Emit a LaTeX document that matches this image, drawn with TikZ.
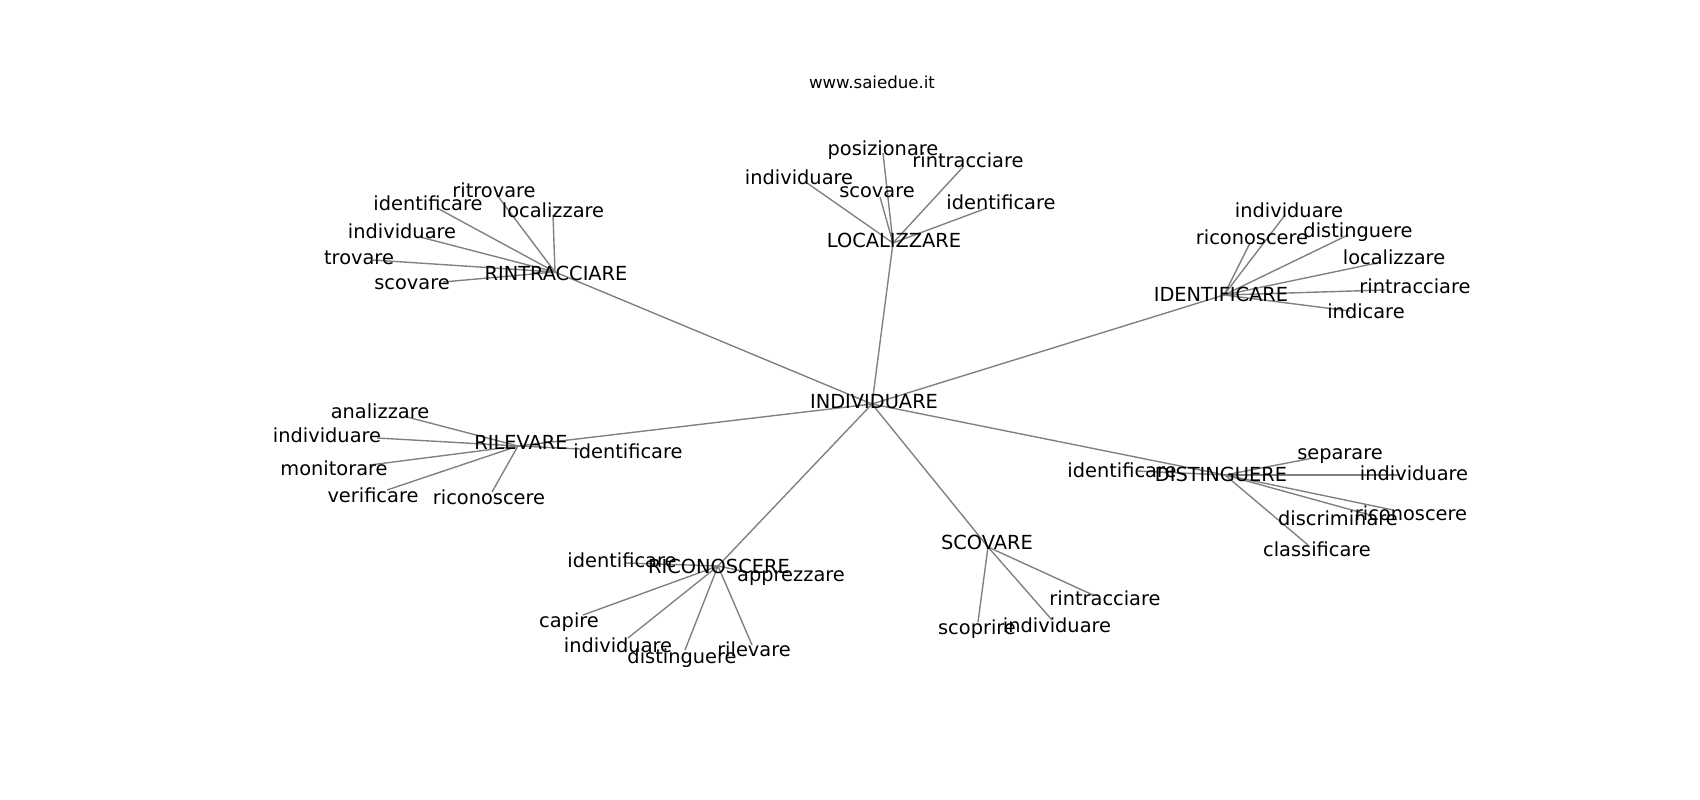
\documentclass[tikz,border=0pt]{standalone}
\usepackage{fontspec}
\setmainfont{DejaVu Sans}
\usepackage{tikz}
\usetikzlibrary{positioning}
\definecolor{edgegray}{RGB}{128,128,128}
\tikzstyle{word} = [inner sep=0pt, text height=0.76em, text depth=0.24em, yshift=-2.2pt, font=\fontsize{14}{16}\selectfont, text=black]
\tikzstyle{edge} = [draw=edgegray, line width=1pt]

\begin{document}
\begin{tikzpicture}[x=0.01in, y=-0.01in]
    \useasboundingbox (0,0) rectangle (1700,800);
    \tikzstyle{title} = [inner sep=0pt, anchor=base, font=\fontsize{12}{14}\selectfont]

    % points of the graph
    \coordinate (individuare) at (872,404);
    \coordinate (rintracciare) at (555,272);
    \coordinate (localizzare) at (893,243);
    \coordinate (identificare) at (1224,295);
    \coordinate (rilevare) at (518,446);
    \coordinate (distinguere) at (1225,475);
    \coordinate (riconoscere) at (718,566);
    \coordinate (scovare) at (988,547);

    \coordinate (rintRitrovare) at (497,195);
    \coordinate (rintIdentificare) at (437,208);
    \coordinate (rintLocalizzare) at (553,215);
    \coordinate (rintIndividuare) at (420,237);
    \coordinate (rintTrovare) at (373,260);
    \coordinate (rintScovare) at (443,282);

    \coordinate (locPosizionare) at (883,153);
    \coordinate (locRintracciare) at (963,167);
    \coordinate (locIndividuare) at (807,183);
    \coordinate (locScovare) at (880,197);
    \coordinate (locIdentificare) at (987,208);

    \coordinate (identIndividuare) at (1285,215);
    \coordinate (identRiconoscere) at (1250,243);
    \coordinate (identDistinguere) at (1348,235);
    \coordinate (identLocalizzare) at (1377,263);
    \coordinate (identRintracciare) at (1385,290);
    \coordinate (identIndicare) at (1350,311);

    \coordinate (rilAnalizzare) at (407,417);
    \coordinate (rilIndividuare) at (377,438);
    \coordinate (rilMonitorare) at (370,465);
    \coordinate (rilVerificare) at (387,490);
    \coordinate (rilRiconoscere) at (492,492);
    \coordinate (rilIdentificare) at (580,449);

    \coordinate (distSeparare) at (1313,458);
    \coordinate (distIndividuare) at (1400,475);
    \coordinate (distRiconoscere) at (1393,510);
    \coordinate (distDiscriminare) at (1370,515);
    \coordinate (distClassificare) at (1308,545);
    \coordinate (distIdentificare) at (1137,471);

    \coordinate (ricIdentificare) at (625,563);
    \coordinate (ricApprezzare) at (747,572);
    \coordinate (ricCapire) at (583,615);
    \coordinate (ricIndividuare) at (628,638);
    \coordinate (ricDistinguere) at (685,650);
    \coordinate (ricRilevare) at (752,645);

    \coordinate (scovRintracciare) at (1093,595);
    \coordinate (scovScoprire) at (978,622);
    \coordinate (scovIndividuare) at (1052,620);

    % connectors
    \draw[edge] (individuare) -- (rintracciare);
    \draw[edge] (individuare) -- (localizzare);
    \draw[edge] (individuare) -- (identificare);
    \draw[edge] (individuare) -- (rilevare);
    \draw[edge] (individuare) -- (distinguere);
    \draw[edge] (individuare) -- (riconoscere);
    \draw[edge] (individuare) -- (scovare);

    \draw[edge] (rintracciare) -- (rintRitrovare);
    \draw[edge] (rintracciare) -- (rintIdentificare);
    \draw[edge] (rintracciare) -- (rintLocalizzare);
    \draw[edge] (rintracciare) -- (rintIndividuare);
    \draw[edge] (rintracciare) -- (rintTrovare);
    \draw[edge] (rintracciare) -- (rintScovare);

    \draw[edge] (localizzare) -- (locPosizionare);
    \draw[edge] (localizzare) -- (locRintracciare);
    \draw[edge] (localizzare) -- (locIndividuare);
    \draw[edge] (localizzare) -- (locScovare);
    \draw[edge] (localizzare) -- (locIdentificare);

    \draw[edge] (identificare) -- (identIndividuare);
    \draw[edge] (identificare) -- (identRiconoscere);
    \draw[edge] (identificare) -- (identDistinguere);
    \draw[edge] (identificare) -- (identLocalizzare);
    \draw[edge] (identificare) -- (identRintracciare);
    \draw[edge] (identificare) -- (identIndicare);

    \draw[edge] (rilevare) -- (rilAnalizzare);
    \draw[edge] (rilevare) -- (rilIndividuare);
    \draw[edge] (rilevare) -- (rilMonitorare);
    \draw[edge] (rilevare) -- (rilVerificare);
    \draw[edge] (rilevare) -- (rilRiconoscere);
    \draw[edge] (rilevare) -- (rilIdentificare);

    \draw[edge] (distinguere) -- (distSeparare);
    \draw[edge] (distinguere) -- (distIndividuare);
    \draw[edge] (distinguere) -- (distRiconoscere);
    \draw[edge] (distinguere) -- (distDiscriminare);
    \draw[edge] (distinguere) -- (distClassificare);
    \draw[edge] (distinguere) -- (distIdentificare);

    \draw[edge] (riconoscere) -- (ricIdentificare);
    \draw[edge] (riconoscere) -- (ricApprezzare);
    \draw[edge] (riconoscere) -- (ricCapire);
    \draw[edge] (riconoscere) -- (ricIndividuare);
    \draw[edge] (riconoscere) -- (ricDistinguere);
    \draw[edge] (riconoscere) -- (ricRilevare);

    \draw[edge] (scovare) -- (scovRintracciare);
    \draw[edge] (scovare) -- (scovScoprire);
    \draw[edge] (scovare) -- (scovIndividuare);

    % labels
    \node[title] (site) at (872,89) {www.saiedue.it};

    \node[word] (individuareText) at (874,402) {INDIVIDUARE};
    \node[word] (rintracciareText) at (556,274) {RINTRACCIARE};
    \node[word] (localizzareText) at (894,241) {LOCALIZZARE};
    \node[word] (identificareText) at (1221,295) {IDENTIFICARE};
    \node[word] (rilevareText) at (521,443) {RILEVARE};
    \node[word] (distinguereText) at (1221,475) {DISTINGUERE};
    \node[word] (riconoscereText) at (719,567) {RICONOSCERE};
    \node[word] (scovareText) at (987,543) {SCOVARE};

    \node[word] (rintRitrovareText) at (494,191) {ritrovare};
    \node[word] (rintIdentificareText) at (428,204) {identificare};
    \node[word] (rintLocalizzareText) at (553,211) {localizzare};
    \node[word] (rintIndividuareText) at (402,232) {individuare};
    \node[word] (rintTrovareText) at (359,258) {trovare};
    \node[word] (rintScovareText) at (412,283) {scovare};

    \node[word] (locPosizionareText) at (883,149) {posizionare};
    \node[word] (locRintracciareText) at (968,161) {rintracciare};
    \node[word] (locIndividuareText) at (799,178) {individuare};
    \node[word] (locScovareText) at (877,191) {scovare};
    \node[word] (locIdentificareText) at (1001,203) {identificare};

    \node[word] (identIndividuareText) at (1289,211) {individuare};
    \node[word] (identRiconoscereText) at (1252,238) {riconoscere};
    \node[word] (identDistinguereText) at (1358,231) {distinguere};
    \node[word] (identLocalizzareText) at (1394,258) {localizzare};
    \node[word] (identRintracciareText) at (1415,287) {rintracciare};
    \node[word] (identIndicareText) at (1366,312) {indicare};

    \node[word] (rilAnalizzareText) at (380,412) {analizzare};
    \node[word] (rilIndividuareText) at (327,436) {individuare};
    \node[word] (rilMonitorareText) at (334,469) {monitorare};
    \node[word] (rilVerificareText) at (373,496) {verificare};
    \node[word] (rilRiconoscereText) at (489,498) {riconoscere};
    \node[word] (rilIdentificareText) at (628,452) {identificare};

    \node[word] (distSeparareText) at (1340,453) {separare};
    \node[word] (distIndividuareText) at (1414,474) {individuare};
    \node[word] (distRiconoscereText) at (1411,514) {riconoscere};
    \node[word] (distDiscriminareText) at (1338,519) {discriminare};
    \node[word] (distClassificareText) at (1317,550) {classificare};
    \node[word] (distIdentificareText) at (1122,471) {identificare};

    \node[word] (ricIdentificareText) at (622,561) {identificare};
    \node[word] (ricApprezzareText) at (791,575) {apprezzare};
    \node[word] (ricCapireText) at (569,621) {capire};
    \node[word] (ricIndividuareText) at (618,646) {individuare};
    \node[word] (ricDistinguereText) at (682,657) {distinguere};
    \node[word] (ricRilevareText) at (754,650) {rilevare};

    \node[word] (scovRintracciareText) at (1105,599) {rintracciare};
    \node[word] (scovScoprireText) at (977,628) {scoprire};
    \node[word] (scovIndividuareText) at (1057,626) {individuare};
\end{tikzpicture}
\end{document}
